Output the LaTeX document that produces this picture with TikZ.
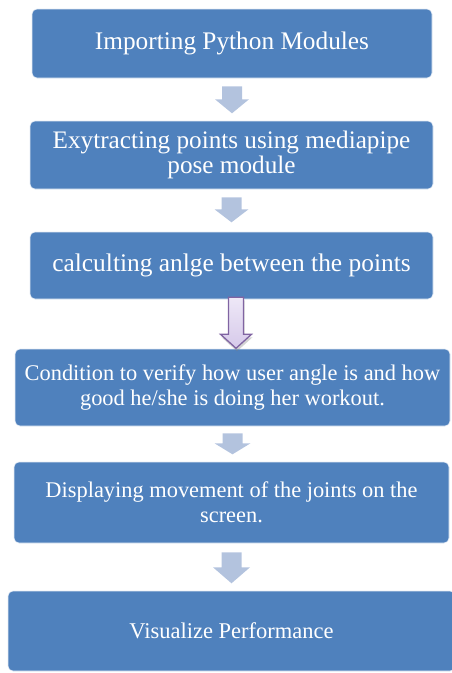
\documentclass[tikz,border=0pt]{standalone}
\usepackage{fontspec}
\setmainfont{Liberation Serif}
\usetikzlibrary{calc,shadows}
\definecolor{boxc}{HTML}{4F81BD}
\definecolor{arrc}{HTML}{B3C3DE}
\definecolor{purb}{HTML}{8064A2}
\definecolor{purt}{HTML}{EEE8F7}
\definecolor{purd}{HTML}{D6C9EA}
\tikzset{
  box/.style={fill=boxc, draw=white!85!boxc, line width=0.6pt, rounded corners=5pt, text=white, align=center, inner sep=0pt},
  larrow/.style={fill=arrc, draw=none},
  parrow/.style={top color=purt, bottom color=purd, draw=purb, line width=1.3pt, line join=miter},
}
\begin{document}
\begin{tikzpicture}[x=1pt,y=-1pt]
\useasboundingbox (0,0) rectangle (451,673);
\node[box, minimum width=400pt, minimum height=69pt, font=\fontsize{25.3}{29}\selectfont] (b1) at (232,43.5) {Importing Python Modules};
\node[box, minimum width=403pt, minimum height=68pt, font=\fontsize{25.2}{25.5}\selectfont] (b2) at (231.5,155) {Exytracting points using mediapipe\\ pose module};
\node[box, minimum width=403pt, minimum height=67pt, font=\fontsize{25.4}{29}\selectfont] (b3) at (231.5,265.5) {calculting anlge between the points};
\node[box, minimum width=435pt, minimum height=77pt, font=\fontsize{22.4}{24.5}\selectfont] (b4) at (232.5,387.5) {Condition to verify how user angle is and how\\ good he/she is doing her workout.};
\node[box, minimum width=435pt, minimum height=81pt, font=\fontsize{22.4}{25.5}\selectfont] (b5) at (231.5,502.5) {Displaying movement of the joints on the\\ screen.};
\node[box, minimum width=447pt, minimum height=80pt, font=\fontsize{22.5}{26}\selectfont] (b6) at (231.5,631) {Visualize Performance};
% block arrows
\path[larrow] ($(b1.south)+(-10,8)$) -- ++(20,0) -- ++(0,13) -- ++(7,0) -- ($(b1.south)+(0,35)$) -- ($(b1.south)+(-17,21)$) -- ++(7,0) -- cycle;
\path[larrow] ($(b2.south)+(-10,8)$) -- ++(20,0) -- ++(0,12) -- ++(7,0) -- ($(b2.south)+(0,33)$) -- ($(b2.south)+(-17,20)$) -- ++(7,0) -- cycle;
\path[parrow, drop shadow={shadow xshift=1pt, shadow yshift=-3pt, opacity=0.35}] ($(b3.south)+(-3,-2)$) -- ++(15,0) -- ++(0,37) -- ++(8,0) -- ($(b3.south)+(4.5,49)$) -- ($(b3.south)+(-11,35)$) -- ++(8,0) -- cycle;
\path[larrow] ($(b4.south)+(-10,7)$) -- ++(20,0) -- ++(0,10) -- ++(8,0) -- ($(b4.south)+(0,28)$) -- ($(b4.south)+(-18,17)$) -- ++(8,0) -- cycle;
\path[larrow] ($(b5.south)+(-10,9)$) -- ++(20,0) -- ++(0,15) -- ++(8.5,0) -- ($(b5.south)+(0,40)$) -- ($(b5.south)+(-18.5,24)$) -- ++(8.5,0) -- cycle;
\end{tikzpicture}
\end{document}
